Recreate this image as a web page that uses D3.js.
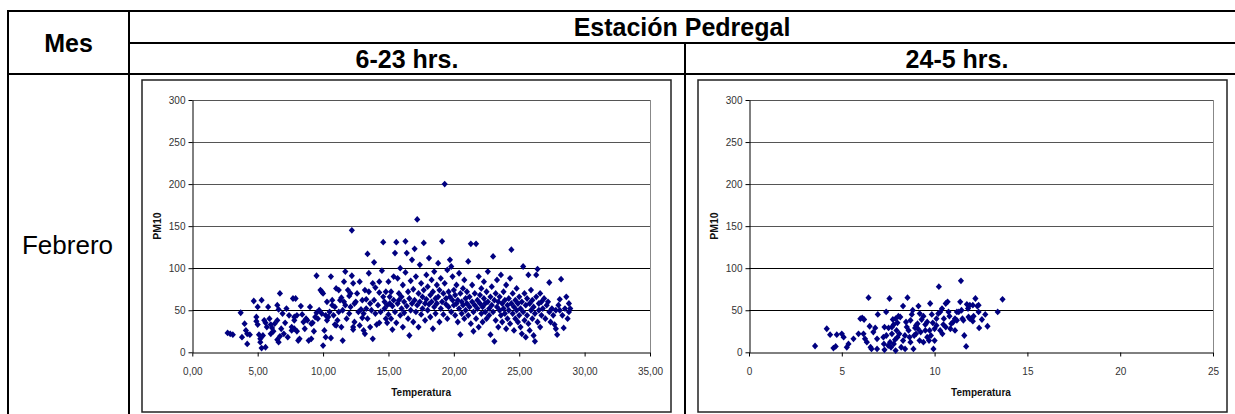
<!DOCTYPE html>
<html><head><meta charset="utf-8">
<script src="https://cdn.jsdelivr.net/npm/d3@7"></script>
<style>
html,body{margin:0;padding:0;background:#fff;}
svg{display:block;font-family:"Liberation Sans",Arial,sans-serif;}
</style></head>
<body>
<svg id="c" width="1235" height="414"></svg>
<script>
// ---- data ----
const headerMes = "Mes";
const headerStation = "Estación Pedregal";
const periodLabels = ["6-23 hrs.", "24-5 hrs."];
const monthLabel = "Febrero";
const xTitle = "Temperatura";
const yTitle = "PM10";
const yTicks = [0, 50, 100, 150, 200, 250, 300];
const xTicksDay = [0, 5, 10, 15, 20, 25, 30, 35];
const xTicksNight = [0, 5, 10, 15, 20, 25];

// [temperatura, PM10] 6-23 hrs.
const dayPoints = [
[2.7,23],[2.9,22],[3.1,21],[3.7,47],[3.8,18],[4.0,34],[4.1,26],[4.2,22],[4.2,10],[4.4,21],[4.7,61],[4.9,42],[4.9,37],[5.0,33],[5.0,54],[5.1,21],[5.2,16],[5.2,12],[5.3,5],[5.3,62],[5.5,38],[5.6,35],[5.6,6],[5.7,30],[5.8,54],[6.0,33],[6.1,29],[6.2,25],[6.5,38],[6.7,70],[6.5,15],[6.6,12],[6.7,19],[6.5,56],[6.6,51],[6.9,46],[7.0,22],[7.3,18],[7.6,26],[7.8,28],[7.7,64],[7.9,64],[7.8,42],[7.8,38],[8.1,14],[8.2,16],[8.3,55],[8.5,36],[8.7,40],[8.9,14],[9.1,16],[9.1,34],[9.2,35],[9.4,42],[9.5,47],[9.0,54],[9.5,91],[9.7,50],[9.8,74],[9.9,72],[10.0,70],[10.0,8],[10.1,26],[10.2,18],[10.2,44],[10.3,38],[10.4,42],[10.6,90],[10.6,17],[10.7,62],[10.7,56],[10.9,54],[10.9,33],[11.0,32],[11.1,38],[11.0,76],[11.2,74],[11.3,62],[11.4,65],[11.5,50],[11.5,14],[11.6,84],[11.7,96],[11.9,74],[12.0,67],[12.1,54],[12.2,91],[12.3,30],[12.3,27],[12.4,36],[12.3,82],[12.5,60],[12.7,48],[12.8,84],[12.9,51],[13.0,41],[13.1,26],[13.2,22],[13.2,74],[13.3,63],[13.3,52],[13.4,117],[13.5,94],[13.6,58],[13.8,16],[13.9,107],[14.0,77],[14.1,33],[14.3,35],[14.3,71],[14.3,84],[14.5,97],[14.6,131],[14.7,60],[14.7,52],[14.8,72],[14.9,35],
[5.4,20],[5.9,40],[6.3,34],[6.8,28],[7.1,35],[7.4,44],[7.6,30],[8.0,25],[8.4,45],[8.6,28],[8.8,38],[9.3,25],[9.6,40],[9.9,46],[7.2,52],[6.0,22],[8.0,44],
[10.3,60],[10.5,48],[10.8,44],[11.2,48],[11.4,30],[11.7,56],[11.8,40],[12.0,46],[12.2,145],[12.4,58],[12.6,70],[12.8,32],[13.0,62],[13.1,46],[13.4,40],[13.5,72],[13.6,30],[13.7,50],[13.9,62],[14.0,46],[14.2,56],[14.4,48],[14.6,66],[14.8,40],[14.9,56],[12.1,70],[11.6,60],[13.8,82],
[15.0,84],[15.1,58],[15.0,45],[15.1,66],[15.2,40],[15.2,72],[15.3,55],[15.3,27],[15.4,62],[15.4,90],[15.5,118],[15.5,48],[15.6,131],[15.6,35],[15.7,88],[15.7,58],[15.8,62],[15.8,70],[15.9,44],[15.9,100],[16.0,52],[16.0,66],[16.1,30],[16.1,80],[16.2,60],[16.2,47],[16.3,132],[16.3,95],[16.4,118],[16.4,55],[16.5,72],[16.5,40],[16.6,64],[16.6,20],[16.7,85],[16.7,50],[16.8,110],[16.8,58],[16.9,36],[16.9,75],[17.0,123],[17.0,62],[17.1,48],[17.1,90],[17.2,158],[17.2,56],[17.3,70],[17.3,30],[17.4,104],[17.4,60],[17.5,45],[17.5,82],[17.6,66],[17.6,52],[17.7,130],[17.7,74],[17.8,58],[17.8,38],[17.9,92],[17.9,63],[18.0,50],[18.0,78],[18.1,112],[18.1,57],[18.2,68],[18.2,42],[18.3,86],[18.3,60],[18.4,28],[18.4,72],[18.5,96],[18.5,54],[18.6,64],[18.6,46],[18.7,80],[18.7,58],[18.8,106],[18.8,66],[18.9,36],[18.9,74],[19.0,52],[19.0,88],[19.1,132],[19.1,60],[19.2,70],[19.2,45],[19.3,200],[19.3,82],[19.4,57],[19.4,64],[19.5,98],[19.5,40],[19.6,72],[19.6,54],[19.7,66],[19.7,110],[19.8,102],[19.8,48],[19.9,90],[19.9,62],[20.0,56],[20.0,74],
[20.1,68],[20.1,44],[20.2,80],[20.2,58],[20.3,62],[20.3,36],[20.4,94],[20.4,52],[20.5,21],[20.5,70],[20.6,60],[20.6,46],[20.7,76],[20.7,56],[20.8,86],[20.8,40],[20.9,64],[20.9,50],[21.0,58],[21.0,72],[21.1,108],[21.1,44],[21.2,66],[21.2,54],[21.3,129],[21.3,34],[21.4,60],[21.4,80],[21.5,25],[21.5,48],[21.6,70],[21.6,56],[21.7,129],[21.7,40],[21.8,62],[21.8,52],[21.9,90],[21.9,30],[22.0,58],[22.0,68],[22.1,46],[22.1,76],[22.2,54],[22.2,36],[22.3,64],[22.3,84],[22.4,48],[22.4,58],[22.5,72],[22.5,40],[22.6,60],[22.6,96],[22.7,52],[22.7,44],[22.8,21],[22.8,66],[22.9,56],[22.9,78],[23.0,114],[23.0,48],[23.1,13],[23.1,62],[23.2,38],[23.2,70],[23.3,54],[23.3,86],[23.4,60],[23.4,30],[23.5,50],[23.5,66],[23.6,44],[23.6,92],[23.7,58],[23.7,36],[23.8,72],[23.8,52],[23.9,46],[23.9,62],[24.0,28],[24.0,80],[24.1,56],[24.1,40],[24.2,64],[24.2,50],[24.3,88],[24.3,34],[24.4,122],[24.4,58],[24.5,46],[24.5,70],[24.6,26],[24.6,54],[24.7,62],[24.7,40],[24.8,76],[24.8,50],[24.9,36],[24.9,58],[25.0,66],[25.0,44],
[25.1,52],[25.1,30],[25.2,60],[25.2,22],[25.3,102],[25.3,48],[25.4,70],[25.4,38],[25.5,56],[25.5,18],[25.6,64],[25.6,44],[25.7,92],[25.7,34],[25.8,58],[25.8,26],[25.9,50],[25.9,74],[26.0,40],[26.0,62],[26.1,20],[26.1,54],[26.2,13],[26.2,46],[26.3,92],[26.3,66],[26.4,99],[26.4,36],[26.5,58],[26.5,50],[26.6,70],[26.6,30],[26.7,44],[26.7,60],[26.8,52],[26.9,64],[27.0,40],[27.1,56],[27.2,60],[27.3,83],[27.3,48],[27.4,36],[27.5,52],[27.6,44],[27.7,33],[27.8,28],[27.8,50],[27.9,21],[28.0,56],[28.1,63],[28.1,50],[28.2,87],[28.3,44],[28.4,29],[28.5,52],[28.6,66],[28.7,40],[28.8,58],[28.8,48],[28.9,52]
];

// [temperatura, PM10] 24-5 hrs.
const nightPoints = [
[3.56,7.5],[4.19,28],[4.37,21],[4.55,5],[4.67,7],[4.73,21],[5.0,22],[5.1,18],[5.27,6],[5.36,10],[5.63,16],[5.9,22],[6.0,40],[6.1,41],[6.2,39],[6.17,22],[6.25,16],[6.35,12],[6.44,65],[6.5,31],[6.55,6],[6.6,4],[6.8,29],[6.9,16],[6.9,4],[6.94,45],[7.24,18],[7.27,10],[7.3,3],[7.39,48],[7.52,29],[7.57,64],[7.6,12],[7.65,6],[7.7,22],[7.75,39],[7.8,33],[7.87,15],[7.9,2],[7.95,26],[8.0,18],[8.05,43],[8.15,42],[8.2,6],[8.3,55],[8.41,4],[8.46,36],[8.54,65],[8.6,26],[8.65,18],[8.7,12],[8.77,45],[8.82,50],[8.86,4],[8.95,29],[9.0,22],[9.08,34],[9.13,55],[9.19,14],[9.25,24],[9.3,39],[9.4,43],[9.5,33],[9.6,18],[9.7,14],[9.73,26],[9.76,58],[9.85,45],[9.9,35],[9.94,4],[10.0,28],[10.1,40],[10.2,46],[10.23,78],[10.3,48],[10.42,22],[10.47,33],[10.6,58],[10.7,60],[10.75,48],[10.8,43],[10.85,28],[11.0,36],[11.1,40],[11.2,48],[11.3,48],[11.38,60],[11.42,85],[11.5,40],[11.55,38],[11.6,20],[11.7,7],[11.8,52],[11.9,56],[12.0,40],[12.1,43],[12.2,64],[12.3,55],[12.37,48],[12.4,29],[11.45,50],[11.74,57],[11.83,42],[12.06,56],[12.37,56],[11.9,40],[12.06,37],[12.55,39],[12.73,45],[12.85,31],[13.4,48],[13.66,63],
[7.4,20],[7.5,8],[7.7,30],[7.8,10],[8.0,35],[8.1,22],[8.3,14],[8.5,30],[8.7,38],[8.9,20],[9.1,28],[9.2,46],[9.4,12],[9.5,26],[9.6,36],[9.8,20],[10.0,14],[10.1,32],[10.3,26],[10.5,40],[10.6,30],[10.9,34],[11.1,26],[11.2,38],[10.4,52],[9.0,32],[8.4,20],[7.9,40],[7.3,30],[6.7,24]
];

// ---- drawing ----
const svg = d3.select("#c");
const BLACK = "#000";

// table
const T = {l:8, t:11, r:1237, b:416, c1:129, c2:685, r1:43, r2:74};
const tg = svg.append("g").attr("stroke", BLACK).attr("stroke-width", 2).attr("fill","none");
tg.append("rect").attr("x",T.l).attr("y",T.t).attr("width",T.r-T.l).attr("height",T.b-T.t);
tg.append("line").attr("x1",T.c1).attr("x2",T.c1).attr("y1",T.t).attr("y2",T.b);
tg.append("line").attr("x1",T.c1).attr("x2",T.r).attr("y1",T.r1).attr("y2",T.r1);
tg.append("line").attr("x1",T.l).attr("x2",T.r).attr("y1",T.r2).attr("y2",T.r2);
tg.append("line").attr("x1",T.c2).attr("x2",T.c2).attr("y1",T.r1).attr("y2",T.b);

const hdr = svg.append("g").attr("font-weight","bold").attr("font-size",25).attr("fill",BLACK).attr("text-anchor","middle");
hdr.append("text").attr("x",(T.l+T.c1)/2).attr("y",(T.t+T.r2)/2).attr("dy","0.36em").text(headerMes);
hdr.append("text").attr("x",(T.c1+T.r)/2 - 1).attr("y",(T.t+T.r1)/2).attr("dy","0.36em").text(headerStation);
hdr.append("text").attr("x",(T.c1+T.c2)/2).attr("y",(T.r1+T.r2)/2).attr("dy","0.36em").text(periodLabels[0]);
hdr.append("text").attr("x",(T.c2+1229)/2).attr("y",(T.r1+T.r2)/2).attr("dy","0.36em").text(periodLabels[1]);

svg.append("text").attr("x",(T.l+T.c1)/2 - 1).attr("y",245).attr("dy","0.36em")
  .attr("text-anchor","middle").attr("font-size",26).attr("fill",BLACK).text(monthLabel);

const diamond = {draw(ctx, size){ const w=3.1, h=3.4; ctx.moveTo(0,-h); ctx.lineTo(w,0); ctx.lineTo(0,h); ctx.lineTo(-w,0); ctx.closePath(); }};

function chart(frame, plot, xMax, xTicks, xFmt, data){
  const g = svg.append("g");
  g.append("rect").attr("x",frame.x).attr("y",frame.y).attr("width",frame.w).attr("height",frame.h)
    .attr("fill","#fff").attr("stroke","#222").attr("stroke-width",1.5);
  const x = d3.scaleLinear().domain([0,xMax]).range([plot.l, plot.r]);
  const y = d3.scaleLinear().domain([0,300]).range([plot.b, plot.t]);
  g.append("g").selectAll("line").data(yTicks.filter(v=>v>0)).join("line")
    .attr("x1",plot.l).attr("x2",plot.r).attr("y1",d=>Math.round(y(d))+0.5).attr("y2",d=>Math.round(y(d))+0.5)
    .attr("stroke",(d)=> d>=150 ? "#555" : "#000").attr("stroke-width",1);
  g.append("line").attr("x1",Math.round(plot.r)+0.5).attr("x2",Math.round(plot.r)+0.5)
    .attr("y1",plot.t).attr("y2",plot.b).attr("stroke","#888").attr("stroke-width",1);
  const ya = g.append("g").attr("transform",`translate(${Math.round(plot.l)+0.5},0)`)
    .call(d3.axisLeft(y).tickValues(yTicks).tickSize(4).tickSizeOuter(0).tickPadding(3));
  const xa = g.append("g").attr("transform",`translate(0,${Math.round(plot.b)+0.5})`)
    .call(d3.axisBottom(x).tickValues(xTicks).tickFormat(xFmt).tickSize(4).tickSizeOuter(0).tickPadding(11));
  [ya,xa].forEach(a=>{
    a.selectAll("path,line").attr("stroke","#000");
    a.selectAll("text").attr("font-size",10).attr("fill","#333").attr("font-family","Liberation Sans, Arial, sans-serif");
  });
  g.append("g").selectAll("path").data(data).join("path")
    .attr("d", d3.symbol().type(diamond).size(30))
    .attr("transform",d=>`translate(${x(d[0])},${y(d[1])})`)
    .attr("fill","#000080");
  g.append("text").attr("x",(plot.l+plot.r)/2).attr("y",396).attr("text-anchor","middle")
    .attr("font-size",10).attr("font-weight","bold").attr("fill","#111").text(xTitle);
  g.append("text").attr("transform",`translate(${plot.l-31},${(plot.t+plot.b)/2}) rotate(-90)`)
    .attr("text-anchor","middle").attr("font-size",10.5).attr("font-weight","bold").attr("fill","#111").text(yTitle);
}

const fmtDay = d => d3.format(".2f")(d).replace(".", ",");
const fmtNight = d => String(d);
chart({x:142,y:80,w:529,h:332},{l:192.3,r:650,t:100,b:352.3},35,xTicksDay,fmtDay,dayPoints);
chart({x:698,y:80,w:529,h:332},{l:749,r:1213,t:100,b:352.3},25,xTicksNight,fmtNight,nightPoints);
</script>
</body></html>
